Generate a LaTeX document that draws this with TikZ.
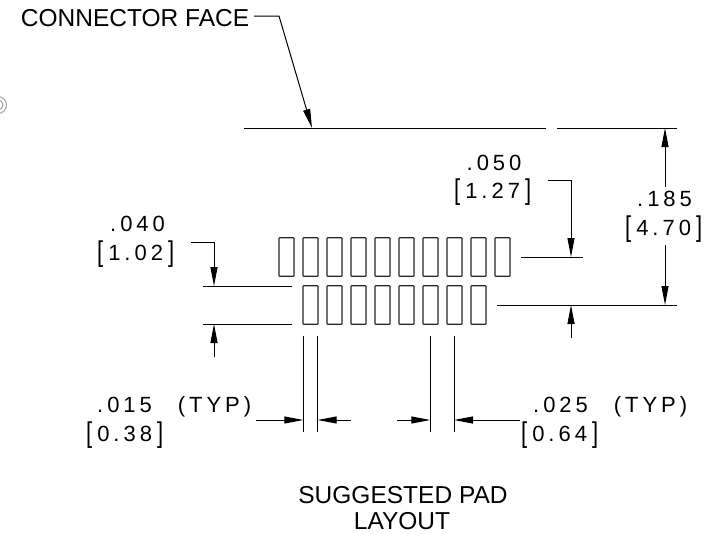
\documentclass[tikz,border=0pt]{standalone}
\usepackage{graphicx}
\usepackage{fontspec}
\setmainfont{Liberation Sans}
\newfontfamily\dimfont[LetterSpace=18]{Liberation Sans}
\newcommand{\lbk}{\raisebox{-1pt}{\scalebox{1}[1.3]{[}}\kern5pt}
\newcommand{\rbk}{\kern5pt\raisebox{-1pt}{\scalebox{1}[1.3]{]}}}
\usetikzlibrary{arrows.meta}
\tikzset{
  x=1pt,y=-1pt,
  pad/.style={draw=black!85,line width=1.1pt,rounded corners=0.6pt,minimum width=15pt,minimum height=38.5pt,inner sep=0pt,outer sep=0pt},
  line/.style={draw=black,line width=1pt},
  arrow/.style={line,-{Stealth[inset=0pt,length=19pt,width=7pt]}},
  dimtext/.style={font=\fontsize{22}{24}\selectfont\dimfont,inner sep=0pt,anchor=base west},
  plain/.style={inner sep=0pt,anchor=base},
}
\begin{document}
\begin{tikzpicture}
\useasboundingbox (0,0) rectangle (725,533);
\begin{scope}
\clip (0,0) rectangle (725,533);
\draw[black!40,line width=0.9pt] (-2,105) circle (8.5);
\draw[black!40,line width=0.9pt] (-2,105) circle (5);
\end{scope}
% pads
\foreach \i [evaluate=\i as \px using {286.5+24*\i}] in {0,...,9} {
  \node[pad] (t\i) at (\px,257) {};
}
\foreach \i [evaluate=\i as \px using {310.5+24*\i}] in {0,...,7} {
  \node[pad] (b\i) at (\px,305) {};
}
% coordinates
\coordinate (cfA) at (254,16);
\coordinate (cfB) at (279,16);
\coordinate (cfC) at (312,128);
\coordinate (faceL) at (244,128);
\coordinate (faceM) at (546,128);
\coordinate (faceN) at (557,128);
\coordinate (faceR) at (677,128);
\coordinate (dimU) at (665,128);
\coordinate (dimUe) at (665,187);
\coordinate (dimD) at (665,305);
\coordinate (dimDe) at (665,245);
\coordinate (r1L) at (497,305);
\coordinate (r1R) at (677,305);
\coordinate (r2L) at (521,257);
\coordinate (r2R) at (583,257);
\coordinate (q1) at (548,180);
\coordinate (q2) at (571,180);
\coordinate (q3) at (571,257);
\coordinate (q4) at (571,338);
\coordinate (q5) at (571,305);
\coordinate (l1L) at (203,286);
\coordinate (l1R) at (292,286);
\coordinate (l2L) at (203,324);
\coordinate (l2R) at (292,324);
\coordinate (p1) at (191,242);
\coordinate (p2) at (214,242);
\coordinate (p3) at (214,286);
\coordinate (p4) at (214,357);
\coordinate (p5) at (214,324);
\foreach \n/\x in {a/303.3,b/317.7,c/430.3,d/454} {
  \coordinate (\n T) at (\x,336);
  \coordinate (\n B) at (\x,432);
  \coordinate (\n M) at (\x,420);
}
\coordinate (aS) at (256,420);
\coordinate (bS) at (351,420);
\coordinate (cS) at (397,420);
\coordinate (dS) at (520,420);
% lines
\draw[line] (faceL) -- (faceM);
\draw[line] (faceN) -- (faceR);
\draw[line] (r1L) -- (r1R);
\draw[line] (r2L) -- (r2R);
\draw[line] (l1L) -- (l1R);
\draw[line] (l2L) -- (l2R);
\foreach \n in {a,b,c,d} { \draw[line] (\n T) -- (\n B); }
% arrows
\draw[arrow] (cfA) -- (cfB) -- (cfC);
\draw[arrow] (dimUe) -- (dimU);
\draw[arrow] (dimDe) -- (dimD);
\draw[arrow] (q1) -- (q2) -- (q3);
\draw[arrow] (q4) -- (q5);
\draw[arrow] (p1) -- (p2) -- (p3);
\draw[arrow] (p4) -- (p5);
\draw[arrow] (aS) -- (aM);
\draw[arrow] (bS) -- (bM);
\draw[arrow] (cS) -- (cM);
\draw[arrow] (dS) -- (dM);
% text
\node[plain,font=\fontsize{24.5}{26}\selectfont] (cf) at (135,26) {CONNECTOR FACE};
\node[dimtext] (d1) at (466.5,170) {.050};
\node[dimtext] (d2) at (454,198) {\lbk1.27\rbk};
\node[dimtext] (d3) at (637,206) {.185};
\node[dimtext] (d4) at (625,235.5) {\lbk4.70\rbk};
\node[dimtext] (d5) at (110,231.5) {.040};
\node[dimtext] (d6) at (97,260.5) {\lbk1.02\rbk};
\node[dimtext] (d7) at (97,412) {.015\hspace{26pt}(TYP)};
\node[dimtext] (d8) at (86,441) {\lbk0.38\rbk};
\node[dimtext] (d9) at (533,412) {.025\hspace{26pt}(TYP)};
\node[dimtext] (d10) at (521,441) {\lbk0.64\rbk};
\node[plain,font=\fontsize{24.5}{26}\selectfont] (s1) at (403,503) {SUGGESTED PAD};
\node[plain,font=\fontsize{24.5}{26}\selectfont] (s2) at (402,529) {LAYOUT};
\end{tikzpicture}
\end{document}
